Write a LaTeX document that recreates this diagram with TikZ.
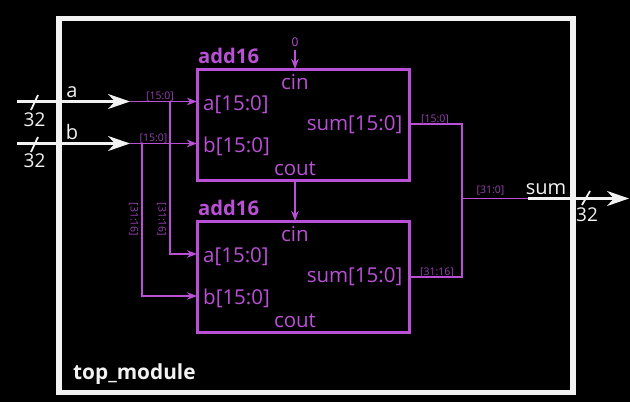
\documentclass[tikz,border=0pt]{standalone}
\usepackage{fontspec}
\setmainfont{Open Sans}
\usetikzlibrary{arrows.meta}
\definecolor{vio}{HTML}{B950D6}
\definecolor{viod}{HTML}{9A42B4}
\definecolor{wh}{HTML}{F2F2F2}
\tikzset{
  x=1pt,y=-1pt,
  modbox/.style={draw=vio,line width=3pt,outer sep=0pt,minimum width=212pt,minimum height=111pt,inner sep=0pt,anchor=north west},
  topbox/.style={draw=wh,line width=5.5pt,outer sep=0pt,minimum width=514pt,minimum height=374pt,inner sep=0pt,anchor=north west},
  modname/.style={text=vio,font=\fontsize{20.2}{20.2}\selectfont\bfseries,inner sep=0pt,anchor=base west},
  port/.style={text=vio,font=\fontsize{20.5}{20.5}\selectfont,inner sep=0pt,anchor=base},
  slice/.style={text=viod,font=\fontsize{10.5}{10.5}\selectfont,inner sep=0pt,anchor=base},
  wirelab/.style={text=wh,font=\fontsize{20}{20}\selectfont,inner sep=0pt,anchor=base},
  widthlab/.style={text=wh,font=\fontsize{19}{19}\selectfont,inner sep=0pt,anchor=base},
  wirew/.style={draw=wh,line width=2.6pt,-{Stealth[length=22pt,width=15pt,inset=7pt]}},
  wirep/.style={draw=vio,line width=1.8pt},
  wirepa/.style={wirep,-{Stealth[length=10pt,width=7.5pt,inset=3pt]}},
  tick/.style={draw=wh,line width=1.8pt},
}
\begin{document}
\begin{tikzpicture}
\useasboundingbox[fill=black] (0,0) rectangle (630,402);
\node[topbox] (top) at (59,18.5) {};
\node[modbox] (m1) at (197,69) {};
\node[modbox] (m2) at (197,221) {};
% free coordinates
\coordinate (ain) at (17,101.5);
\coordinate (bin) at (17,143.5);
\coordinate (ahead) at (130,101.5);
\coordinate (bhead) at (130,143.5);
\coordinate (a1) at (197,101.5);
\coordinate (b1) at (197,143.5);
\coordinate (a2) at (197,254);
\coordinate (b2) at (197,296);
\coordinate (abr) at (170,101.5);
\coordinate (bbr) at (142,143.5);
\coordinate (s1) at (409,124);
\coordinate (s2) at (409,277);
\coordinate (jn) at (462,198.5);
\coordinate (sw) at (528,198.5);
\coordinate (sout) at (629,198.5);
\coordinate (zero) at (295,50);
\coordinate (cin1) at (295,69);
\coordinate (cout1) at (295,180);
\coordinate (cin2) at (295,221);
% purple wires
\draw[wirepa] (ahead) -- (a1);
\draw[wirepa] (bhead) -- (b1);
\draw[wirepa] (abr) -- (abr |- a2) -- (a2);
\draw[wirepa] (bbr) -- (bbr |- b2) -- (b2);
\draw[wirepa] (zero) -- (cin1);
\draw[wirepa] (cout1) -- (cin2);
\draw[wirep] (s1) -| (jn);
\draw[wirep] (s2) -| (jn);
\draw[wirep] (jn) -- (sw);
% white wires
\draw[wirew] (ain) -- (ahead);
\draw[wirew] (bin) -- (bhead);
\draw[wirew] (sw) -- (sout);
% ticks
\coordinate (t1a) at (31,110); \coordinate (t1b) at (38,95);
\coordinate (t2a) at (31,152); \coordinate (t2b) at (38,137);
\coordinate (t3a) at (582,205); \coordinate (t3b) at (590,191);
\draw[tick] (t1a) -- (t1b);
\draw[tick] (t2a) -- (t2b);
\draw[tick] (t3a) -- (t3b);
% texts
\node[modname] (n1) at (198,63) {add16};
\node[modname] (n2) at (198,215) {add16};
\node[text=wh,font=\fontsize{20.8}{20.8}\selectfont\bfseries,inner sep=0pt,anchor=base west] (n3) at (73,379.5) {top\_module};
\foreach \yy/\id in {0/u,152/l}{
  \node[port] (cin\id) at (295,89+\yy) {cin};
  \node[port,anchor=base west] (a\id) at (203,110.5+\yy) {a[15:0]};
  \node[port,anchor=base west] (b\id) at (203,152.5+\yy) {b[15:0]};
  \node[port,anchor=base east] (sum\id) at (402.5,130.5+\yy) {sum[15:0]};
  \node[port] (cout\id) at (295,175+\yy) {cout};
}
\node[wirelab] (la) at (72,97) {a};
\node[wirelab] (lb) at (72,139) {b};
\node[wirelab] (ls) at (546,194) {sum};
\node[widthlab] (w1) at (34.5,126) {32};
\node[widthlab] (w2) at (34.5,167.5) {32};
\node[widthlab] (w3) at (587,221) {32};
\node[text=vio,font=\fontsize{12}{12}\selectfont,inner sep=0pt,anchor=base] (z) at (295,46) {0};
\node[slice] (s15a) at (160,99.5) {[15:0]};
\node[slice] (s15b) at (153.5,141) {[15:0]};
\node[slice] (s15c) at (435,122) {[15:0]};
\node[slice] (s31b) at (437,275) {[31:16]};
\node[slice] (s31c) at (490.5,193.5) {[31:0]};
\node[slice,rotate=-90,anchor=center] (s31d) at (161.5,219.5) {[31:16]};
\node[slice,rotate=-90,anchor=center] (s31e) at (133.5,219.5) {[31:16]};
\end{tikzpicture}
\end{document}
